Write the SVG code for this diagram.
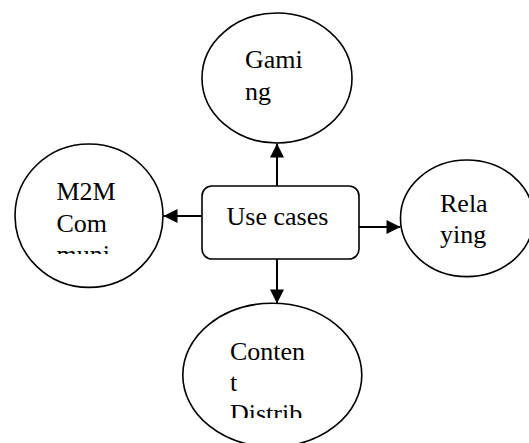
<svg xmlns="http://www.w3.org/2000/svg" width="529" height="443" viewBox="0 0 529 443">
  <style>
    .node { fill: #ffffff; stroke: #000000; stroke-width: 1.6; }
    .label { font-size: 26px; fill: #000000; }
    .edge { stroke: #000000; stroke-width: 2; fill: none; }
  </style>
  <defs>
    <marker id="arrow" viewBox="0 0 10 10" refX="10" refY="5" markerWidth="17" markerHeight="14" markerUnits="userSpaceOnUse" orient="auto">
      <path d="M0,0 L10,5 L0,10 Z" fill="#000000"/>
    </marker>
    <!-- text frames that crop overflowing labels -->
    <clipPath id="clip-m2m"><rect x="40" y="170" width="110" height="84"/></clipPath>
    <clipPath id="clip-content"><rect x="200" y="330" width="150" height="88"/></clipPath>
  </defs>
  <rect width="529" height="443" fill="#ffffff"/>

  <g id="connectors">
    <line class="edge" x1="277" y1="186" x2="277" y2="143.5" marker-end="url(#arrow)"/>
    <line class="edge" x1="277" y1="259" x2="277" y2="303.5" marker-end="url(#arrow)"/>
    <line class="edge" x1="202" y1="216" x2="163.5" y2="216" marker-end="url(#arrow)"/>
    <line class="edge" x1="359" y1="227" x2="400.5" y2="227" marker-end="url(#arrow)"/>
  </g>

  <g font-family="Liberation Serif, serif">
  <g id="use-cases">
    <rect class="node" x="202" y="186" width="157" height="73" rx="10" ry="10"/>
    <text class="label" x="226.5" y="225">Use cases</text>
  </g>

  <g id="gaming">
    <ellipse class="node" cx="277" cy="78" rx="75" ry="65"/>
    <text class="label" x="245" y="68">Gami</text>
    <text class="label" x="245" y="100">ng</text>
  </g>

  <g id="m2m">
    <ellipse class="node" cx="89" cy="215.7" rx="74" ry="71.7"/>
    <g clip-path="url(#clip-m2m)">
      <text class="label" x="56.5" y="200">M2M</text>
      <text class="label" x="56.5" y="231.5">Com</text>
      <text class="label" x="56.5" y="263">muni</text>
    </g>
  </g>

  <g id="relaying">
    <ellipse class="node" cx="467" cy="218.3" rx="66.5" ry="58.3"/>
    <text class="label" x="440" y="212">Rela</text>
    <text class="label" x="440" y="242.5">ying</text>
  </g>

  <g id="content-distribution">
    <ellipse class="node" cx="272.3" cy="375" rx="89.5" ry="71.7"/>
    <g clip-path="url(#clip-content)">
      <text class="label" x="230" y="360">Conten</text>
      <text class="label" x="230" y="391">t</text>
      <text class="label" x="230" y="422">Distrib</text>
    </g>
  </g>
  </g>
</svg>
